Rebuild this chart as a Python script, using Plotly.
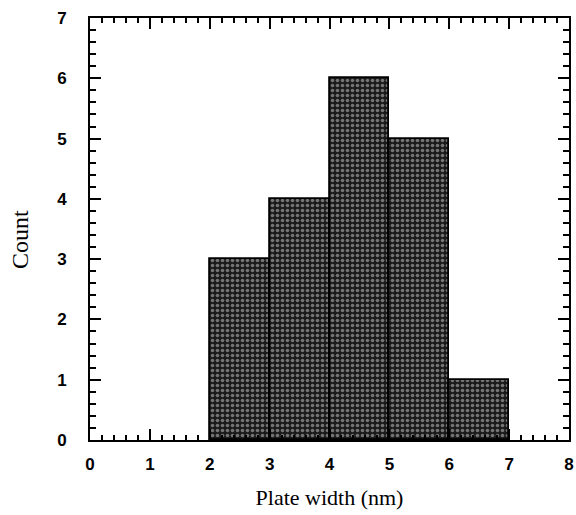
import plotly.graph_objects as go

bin_left = [2, 3, 4, 5, 6]
bin_width = [1, 1, 1, 1, 1]
counts = [3, 4, 6, 5, 1]
x_ticks = [0, 1, 2, 3, 4, 5, 6, 7, 8]
y_ticks = [0, 1, 2, 3, 4, 5, 6, 7]

centers = [l + w / 2 for l, w in zip(bin_left, bin_width)]

fig = go.Figure()
fig.add_trace(go.Bar(
    x=centers, y=counts, width=bin_width,
    marker=dict(
        color="#1a1a1a",
        line=dict(color="black", width=1.8),
        pattern=dict(shape=".", fgcolor="#d0d0d0", size=5, solidity=0.4),
    ),
    showlegend=False,
))

tickfont = dict(family="Liberation Sans, Arial, sans-serif", size=17, color="black", weight="bold")
serif = "Liberation Serif, Times New Roman, serif"
axis_common = dict(
    showgrid=False, zeroline=False, showline=True, linecolor="black", linewidth=2,
    mirror="ticks", ticks="inside", ticklen=11, tickwidth=2, tickcolor="black",
    tickfont=tickfont, automargin=False, ticklabeloverflow="allow",
)

fig.update_xaxes(
    range=[0, 8], tickvals=x_ticks, ticktext=[str(v) for v in x_ticks],
    minor=dict(dtick=0.2, ticks="inside", ticklen=5, tickwidth=1.5, tickcolor="black"),
    title=dict(text="Plate width (nm)", font=dict(family=serif, size=22, color="black"), standoff=16),
    ticklabelstandoff=8,
    **axis_common,
)
fig.update_yaxes(
    range=[0, 7], tickvals=y_ticks, ticktext=[str(v) for v in y_ticks],
    minor=dict(dtick=0.2, ticks="inside", ticklen=6, tickwidth=1.5, tickcolor="black"),
    ticklabelstandoff=18,
    **axis_common,
)

fig.add_annotation(
    text="Count", textangle=-90, showarrow=False,
    xref="paper", yref="paper", x=-0.146, y=0.474,
    xanchor="center", yanchor="middle",
    font=dict(family=serif, size=24, color="black"),
)

fig.update_layout(
    width=576, height=515,
    margin=dict(l=90, r=7, t=18, b=75),
    plot_bgcolor="white", paper_bgcolor="white",
    bargap=0,
)

fig.write_html("out.html")
